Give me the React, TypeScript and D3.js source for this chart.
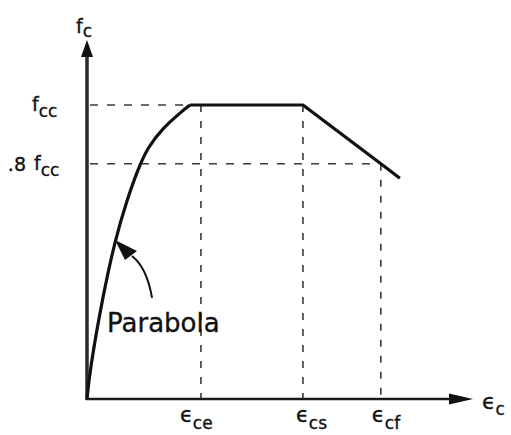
import React from "react";
import * as d3 from "d3";

// Rising parabolic branch (strain in units of εce, stress in units of fcc)
const parabolaStrain = [0, 0.026, 0.132, 0.246, 0.351, 0.447, 0.535, 0.667, 0.816, 0.904];
const parabolaStress = [0, 0.099, 0.337, 0.541, 0.677, 0.782, 0.857, 0.922, 0.973, 1.0];

// Plateau and linear descending branch
const branchStrain = [0.904, 1.895, 2.579, 2.746];
const branchStress = [1.0, 1.0, 0.8, 0.751];

// Strain ticks on the horizontal axis: εce, εcs, εcf
const strainTicks = [1.0, 1.895, 2.579];
const strainTickSubs = ["ce", "cs", "cf"];
const strainTickTops = [1.0, 1.0, 0.8];

// Stress levels on the vertical axis: fcc, .8 fcc
const stressTicks = [1.0, 0.8];
const stressTickPrefix = ["", ".8"];
const stressTickEnds = [1.0, 2.579];

// Point on the parabola the "Parabola" pointer targets
const pointerIndex = 3;

const W = 511;
const H = 435;

export default function App() {
  const x = d3.scaleLinear().domain([0, 3.37]).range([87, 471]);
  const y = d3.scaleLinear().domain([0, 1]).range([399, 105]);

  const parabolaPts: [number, number][] = parabolaStrain.map((e, i) => [x(e), y(parabolaStress[i])]);
  const branchPts: [number, number][] = branchStrain.map((e, i) => [x(e), y(branchStress[i])]);

  const parabolaPath = d3.line().curve(d3.curveBasis)(parabolaPts) || "";
  const branchPath = d3.line()(branchPts) || "";

  const font = "'DejaVu Sans', sans-serif";
  const ink = "#111";
  const dash = "#3a3a3a";
  const textStroke = { stroke: ink, strokeWidth: 0.35 };

  const x0 = x(0);
  const y0 = y(0);
  const labelDx = [-21, -7, -9];

  // pointer arrow
  const tipX = x(parabolaStrain[pointerIndex]);
  const tipY = y(parabolaStress[pointerIndex]);

  return (
    <svg
      width={W}
      height={H}
      viewBox={`0 0 ${W} ${H}`}
      style={{ position: "absolute", left: 0, top: 0, background: "#fff" }}
    >
      <rect width={W} height={H} fill="#fff" />

      {/* dashed guide lines */}
      {stressTicks.map((s, i) => (
        <line
          key={`h${i}`}
          x1={x0 + 3}
          x2={x(stressTickEnds[i])}
          y1={y(s)}
          y2={y(s)}
          stroke={dash}
          strokeWidth={1.6}
          strokeDasharray="8 9"
        />
      ))}
      {strainTicks.map((e, i) => (
        <line
          key={`v${i}`}
          x1={x(e)}
          x2={x(e)}
          y1={y(strainTickTops[i])}
          y2={y0}
          stroke={dash}
          strokeWidth={1.6}
          strokeDasharray="7 9"
        />
      ))}

      {/* axes */}
      <line x1={x0} x2={x0} y1={y0 + 1} y2={56} stroke="#2a2a2a" strokeWidth={3.5} />
      <path d={`M${x0},40 L${x0 - 6},57 L${x0 + 6},57 Z`} fill="#111" />
      <line x1={x0 - 1} x2={x(3.37) - 20} y1={y0} y2={y0} stroke="#1a1a1a" strokeWidth={2.5} />
      <path
        d={`M${x(3.37) + 2},${y0} L${x(3.37) - 22},${y0 - 5.5} L${x(3.37) - 22},${y0 + 5.5} Z`}
        fill="#111"
      />

      {/* stress–strain curve */}
      <path d={parabolaPath} fill="none" stroke={ink} strokeWidth={3.2} strokeLinejoin="round" />
      <path d={branchPath} fill="none" stroke={ink} strokeWidth={3.2} strokeLinejoin="round" />

      {/* pointer to the parabola */}
      <path
        d={`M${tipX + 17},${tipY + 16} Q${tipX + 32},${tipY + 28} ${tipX + 37},${tipY + 58}`}
        fill="none"
        stroke={ink}
        strokeWidth={2}
      />
      <path
        d={`M${tipX},${tipY} L${tipX + 22},${tipY + 11} L${tipX + 10},${tipY + 20} Z`}
        fill={ink}
      />
      <text x={107} y={332} fontFamily={font} fontSize={26} fill={ink} {...textStroke}>
        Parabola
      </text>

      {/* vertical axis title */}
      <text x={76} y={33} fontFamily={font} fontSize={19} fill={ink} {...textStroke}>
        f<tspan dy={4} fontSize={17}>c</tspan>
      </text>

      {/* stress labels */}
      {stressTicks.map((s, i) => (
        <g key={`sl${i}`}>
          {stressTickPrefix[i] && (
            <text x={26} y={y(s) + 7} textAnchor="end" fontFamily={font} fontSize={19} fill={ink} {...textStroke}>
              {stressTickPrefix[i]}
            </text>
          )}
          <text x={i === 0 ? 32 : 34} y={y(s) + 6} fontFamily={font} fontSize={19} fill={ink} {...textStroke}>
            f<tspan dy={6} fontSize={17}>cc</tspan>
          </text>
        </g>
      ))}

      {/* strain labels */}
      {strainTicks.map((e, i) => (
        <text
          key={`el${i}`}
          x={x(e) + labelDx[i]}
          y={422}
          fontFamily={font}
          fontSize={21}
          fill={ink}
          {...textStroke}
        >
          ϵ<tspan dy={7} fontSize={17}>{strainTickSubs[i]}</tspan>
        </text>
      ))}

      {/* horizontal axis title */}
      <text x={482} y={409} fontFamily={font} fontSize={22} fill={ink} {...textStroke}>
        ϵ<tspan dy={6} fontSize={17}>c</tspan>
      </text>
    </svg>
  );
}
